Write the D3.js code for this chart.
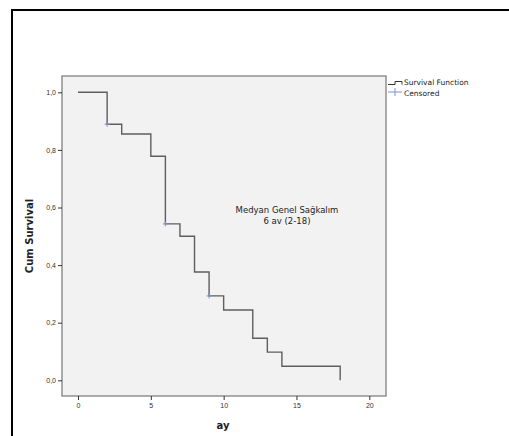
<!DOCTYPE html>
<html>
<head>
<meta charset="utf-8">
<script src="https://cdn.jsdelivr.net/npm/d3@7"></script>
<style>
  body { margin: 0; background: #fff; }
  svg { display: block; font-family: "DejaVu Sans", "Open Sans", sans-serif; }
</style>
</head>
<body>
<div id="chart"></div>
<script>
// survival steps (time, cumulative survival after the step)
const times = [0, 2, 3, 5, 6, 7, 8, 9, 10, 12, 13, 14, 18];
const survival = [1.0, 0.889, 0.855, 0.778, 0.543, 0.5, 0.376, 0.293, 0.244, 0.146, 0.098, 0.049, 0.0];
const censoredTimes = [2, 6, 9];
const censoredValues = [0.889, 0.543, 0.293];
const xTicks = [0, 5, 10, 15, 20];
const yTicks = [0, 0.2, 0.4, 0.6, 0.8, 1.0];
const legendLabels = ['Survival Function', 'Censored'];
const noteLines = ['Medyan Genel Sağkalım', '6 av (2-18)'];

const width = 509, height = 436;

const svg = d3.select('#chart')
    .append('svg')
    .attr('width', width)
    .attr('height', height);

// outer frame (only left and top visible)
svg.append('path')
    .attr('d', `M12,${height} L12,10 L${width},10`)
    .attr('fill', 'none')
    .attr('stroke', '#000')
    .attr('stroke-width', 2);

// plot box
const box = { left: 62, top: 76, right: 386, bottom: 396 };

const x = d3.scaleLinear().domain([0, 20]).range([78, 369.3]);
const y = d3.scaleLinear().domain([0, 1]).range([380.3, 92.3]);

svg.append('rect')
    .attr('x', box.left)
    .attr('y', box.top)
    .attr('width', box.right - box.left)
    .attr('height', box.bottom - box.top)
    .attr('fill', '#f2f2f2')
    .attr('stroke', '#808080')
    .attr('stroke-width', 1.3);

// y axis
const yAxis = svg.append('g')
    .attr('transform', `translate(${box.left},0)`)
    .call(d3.axisLeft(y).tickValues(yTicks).tickSize(4).tickPadding(2)
        .tickFormat(d => d3.format('.1f')(d).replace('.', ',')));
yAxis.select('.domain').remove();
yAxis.selectAll('line').attr('stroke', '#333');
yAxis.selectAll('text').attr('font-size', 7).attr('fill', '#333');

// x axis
const xAxis = svg.append('g')
    .attr('transform', `translate(0,${box.bottom})`)
    .call(d3.axisBottom(x).tickValues(xTicks).tickSize(4).tickPadding(3));
xAxis.select('.domain').remove();
xAxis.selectAll('line').attr('stroke', '#333');
xAxis.selectAll('text').attr('font-size', 7).attr('fill', '#333');

// axis titles
svg.append('text')
    .attr('transform', `translate(33,236) rotate(-90)`)
    .attr('text-anchor', 'middle')
    .attr('font-size', 10)
    .attr('font-weight', 'bold')
    .attr('fill', '#222')
    .text('Cum Survival');

svg.append('text')
    .attr('x', 223)
    .attr('y', 429)
    .attr('text-anchor', 'middle')
    .attr('font-size', 10)
    .attr('font-weight', 'bold')
    .attr('fill', '#222')
    .text('ay');

// survival step line
const pts = times.map((t, i) => [t, survival[i]]);
const line = d3.line()
    .x(d => x(d[0]))
    .y(d => y(d[1]))
    .curve(d3.curveStepAfter);

svg.append('path')
    .datum(pts)
    .attr('d', line)
    .attr('fill', 'none')
    .attr('stroke', '#5e5e5e')
    .attr('stroke-width', 1.4);

// censored marks
const cs = 2.5;
svg.selectAll('.cens')
    .data(censoredTimes.map((t, i) => [t, censoredValues[i]]))
    .enter()
    .append('path')
    .attr('class', 'cens')
    .attr('d', d => `M${x(d[0]) - cs},${y(d[1])}h${2 * cs}M${x(d[0])},${y(d[1]) - cs}v${2 * cs}`)
    .attr('stroke', '#7b8fd6')
    .attr('stroke-width', 1);

// annotation
svg.append('text')
    .attr('x', 287)
    .attr('y', 213)
    .attr('text-anchor', 'middle')
    .attr('font-size', 8.5)
    .attr('fill', '#222')
    .selectAll('tspan')
    .data(noteLines)
    .enter()
    .append('tspan')
    .attr('x', 287)
    .attr('dy', (d, i) => i === 0 ? 0 : 11)
    .text(d => d);

// legend
const lg = svg.append('g');
lg.append('path')
    .attr('d', 'M388,84.5 H395 V81.5 H402 V84.5')
    .attr('fill', 'none')
    .attr('stroke', '#333')
    .attr('stroke-width', 1);
lg.append('path')
    .attr('d', 'M388,92 H402 M395,88 V96')
    .attr('stroke', '#7b8fd6')
    .attr('stroke-width', 1);
lg.selectAll('text')
    .data(legendLabels)
    .enter()
    .append('text')
    .attr('x', 404)
    .attr('y', (d, i) => 85 + i * 10.5)
    .attr('font-size', 7.5)
    .attr('fill', '#222')
    .text(d => d);
</script>
</body>
</html>
